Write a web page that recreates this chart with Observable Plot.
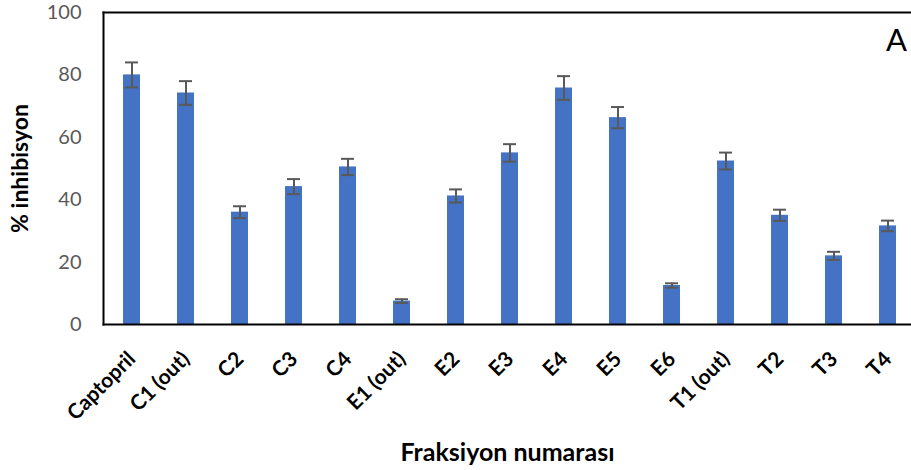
<!DOCTYPE html>
<html>
<head>
<meta charset="utf-8">
<script src="https://cdn.jsdelivr.net/npm/d3@7"></script>
<script src="https://cdn.jsdelivr.net/npm/@observablehq/plot@0.6"></script>
<style>
  html, body { margin: 0; padding: 0; background: #fff; }
</style>
</head>
<body>
<div id="chart"></div>
<script>
const categories = ["Captopril", "C1 (out)", "C2", "C3", "C4", "E1 (out)", "E2", "E3", "E4", "E5", "E6", "T1 (out)", "T2", "T3", "T4"];
const values = [80.0, 74.2, 36.0, 44.2, 50.5, 7.5, 41.2, 55.0, 75.8, 66.3, 12.5, 52.4, 35.0, 22.0, 31.6];
const errors = [4.0, 3.8, 1.9, 2.4, 2.6, 0.6, 2.1, 2.8, 3.8, 3.4, 0.7, 2.7, 1.8, 1.3, 1.7];
const yTicks = [0, 20, 40, 60, 80, 100];

const data = categories.map((c, i) => ({cat: c, val: values[i], lo: values[i] - errors[i], hi: values[i] + errors[i]}));
const errColor = "#595959";

const chart = Plot.plot({
  width: 911,
  height: 470,
  marginLeft: 103,
  marginRight: 0,
  marginTop: 12,
  marginBottom: 146,
  style: {fontFamily: "Lato, 'Open Sans', sans-serif", background: "#fff"},
  x: {domain: categories, range: [103, 916], paddingInner: 0.686, paddingOuter: 0.343, label: null, axis: null},
  y: {domain: [0, 100], label: null},
  marks: [
    Plot.barY(data, {x: "cat", y: "val", fill: "#4472C4"}),
    Plot.ruleX(data, {x: "cat", y1: "lo", y2: "hi", stroke: errColor, strokeWidth: 2}),
    Plot.tickY(data, {x: "cat", y: "hi", stroke: errColor, strokeWidth: 2, insetLeft: 2, insetRight: 2}),
    Plot.tickY(data, {x: "cat", y: "lo", stroke: errColor, strokeWidth: 2, insetLeft: 2, insetRight: 2}),
    Plot.frame({anchor: "left", stroke: "black", strokeWidth: 2}),
    Plot.frame({anchor: "top", stroke: "black", strokeWidth: 2}),
    Plot.frame({anchor: "bottom", stroke: "black", strokeWidth: 2}),
    Plot.axisY({ticks: yTicks, tickSize: 0, tickPadding: 22, fontSize: 20, fill: "#595959", label: null}),
    Plot.text(categories, {x: d => d, frameAnchor: "bottom", dx: 0, dy: 31, rotate: -45, textAnchor: "end", lineAnchor: "middle", fontSize: 21, fontWeight: "bold", fill: "black"}),
    Plot.text(["% inhibisyon"], {frameAnchor: "left", dx: -83, rotate: -90, textAnchor: "middle", lineAnchor: "middle", fontSize: 23, fontWeight: "bold", fill: "black"}),
    Plot.text(["Fraksiyon numarası"], {frameAnchor: "bottom", dy: 136, textAnchor: "middle", fontSize: 25, fontWeight: "bold", fill: "black"}),
    Plot.text(["A"], {frameAnchor: "top-right", dx: -15, dy: 16, textAnchor: "middle", lineAnchor: "top", fontSize: 31, fill: "black"})
  ]
});
document.getElementById("chart").appendChild(chart);
</script>
</body>
</html>
